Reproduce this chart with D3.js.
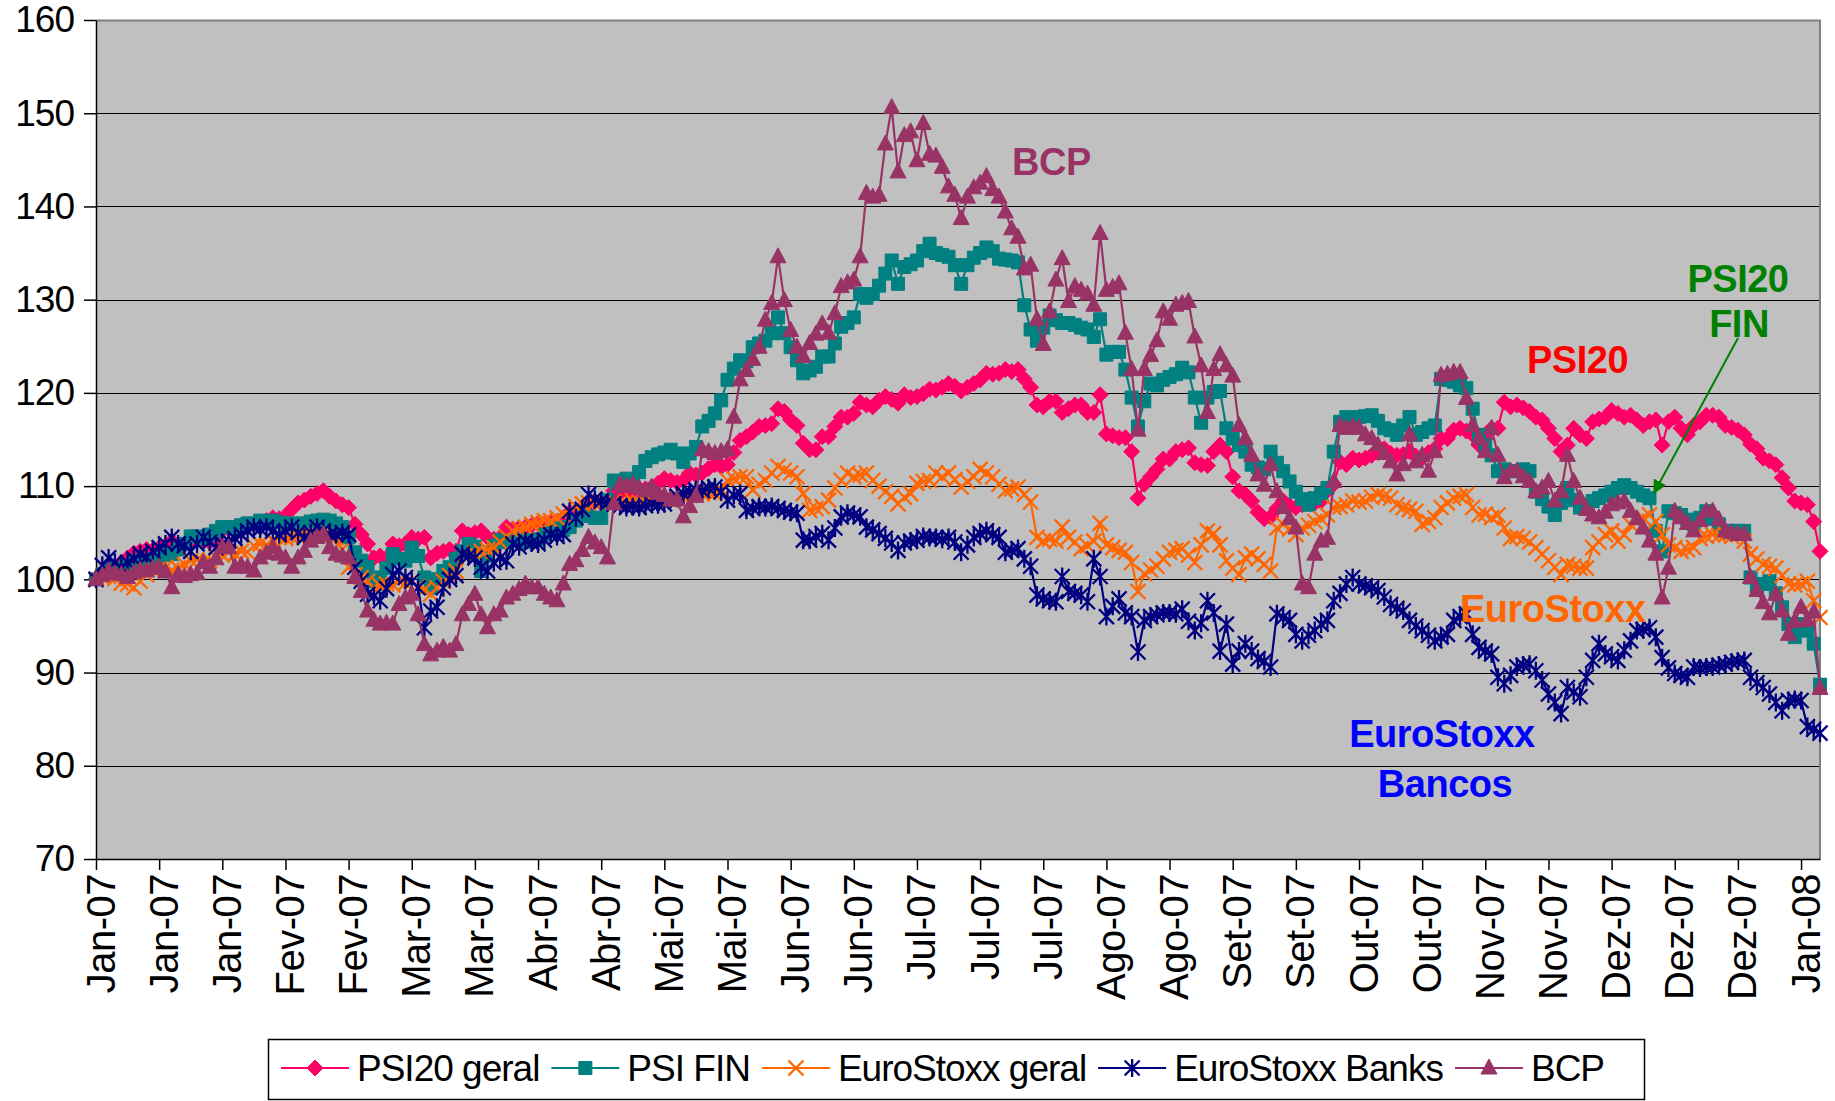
<!DOCTYPE html>
<html>
<head>
<meta charset="utf-8">
<script src="https://cdn.jsdelivr.net/npm/d3@7"></script>
<style>
  body { margin: 0; background: #fff; }
  text { font-family: "Liberation Sans", Arial, sans-serif; }
</style>
</head>
<body>
<svg></svg>
<script>
const tickLabels = ["Jan-07", "Jan-07", "Jan-07", "Fev-07", "Fev-07", "Mar-07", "Mar-07", "Abr-07", "Abr-07",
  "Mai-07", "Mai-07", "Jun-07", "Jun-07", "Jul-07", "Jul-07", "Jul-07", "Ago-07", "Ago-07", "Set-07", "Set-07",
  "Out-07", "Out-07", "Nov-07", "Nov-07", "Dez-07", "Dez-07", "Dez-07", "Jan-08"];
const yTicks = [70, 80, 90, 100, 110, 120, 130, 140, 150, 160];
const seriesNames = ["PSI20 geral", "PSI FIN", "EuroStoxx geral", "EuroStoxx Banks", "BCP"];

const psi20 = [
  100, 100.6, 101, 101.4, 101.8, 102.3, 102.8, 103, 103.2, 103.1,
  103.4, 103.6, 104.1, 103.6, 103.7, 104, 104.2, 104.2, 104, 104.5,
  105.3, 105.4, 105.6, 105.5, 105.8, 105.9, 106, 106.3, 106.6, 106.5,
  106.8, 107.5, 108.2, 108.5, 108.9, 109.2, 109.5, 108.9, 108.4, 108,
  107.7, 105.9, 104.8, 103.8, 102.3, 102.5, 102.3, 103.8, 103.6, 103.8,
  104.5, 104.3, 104.5, 102.3, 102.8, 103, 103.2, 103, 105.2, 104.8,
  105, 105.2, 104.5, 104.3, 104.5, 105.6, 105.4, 105.5, 105.6, 105.8,
  106, 105.8, 106.1, 106, 106.6, 107.2, 107, 107.2, 107.8, 108.4,
  108.2, 108.4, 109.5, 109.3, 109.6, 109.4, 109.5, 109.7, 109.9, 110.3,
  110.8, 110.6, 110.4, 110.6, 111.4, 111.2, 111.4, 111.9, 112.3, 112.1,
  112.3, 113.6, 114.9, 115.3, 115.8, 116.4, 116.5, 116.7, 118.3, 118,
  117.1, 116.5, 114.6, 113.9, 113.9, 115.3, 115.3, 116.4, 117.4, 117.4,
  117.8, 119, 118.7, 118.5, 119.2, 119.6, 119.3, 118.9, 119.8, 119.5,
  119.6, 119.9, 120.4, 120.3, 120.6, 121, 120.7, 120.2, 120.6, 121,
  121.4, 122.1, 122, 122.1, 122.5, 122.3, 122.5, 121.5, 120.6, 118.7,
  118.5, 119.1, 119.1, 117.9, 118.3, 118.7, 118.7, 117.9, 117.9, 119.8,
  115.6, 115.4, 115.2, 115.2, 113.7, 108.7, 110.2, 111, 111.8, 112.9,
  112.9, 113.7, 113.9, 114.1, 112.5, 112.3, 112.2, 113.7, 114.4, 113.7,
  111, 109.5, 109.1, 108.4, 107.2, 106.5, 106.7, 107.6, 108.4, 107.9,
  107.7, 108, 108.4, 108.2, 108.4, 109.5, 110.2, 112.6, 112.3, 113,
  112.8, 113, 113.3, 113.6, 114, 113.5, 113.3, 113.4, 113.7, 113.2,
  113, 113.6, 114, 115.1, 115.1, 116, 116.2, 115.9, 115.5, 114.4,
  115.1, 116.2, 116.2, 119, 118.5, 118.7, 118.4, 118, 117.4, 117.1,
  116.2, 115.1, 113.7, 114.4, 116.2, 115.5, 115.1, 116.9, 117.2, 117.4,
  118.1, 117.8, 117.4, 117.6, 117.1, 116.5, 116.9, 117.1, 114.4, 116.9,
  117.4, 116.2, 115.5, 116.5, 116.9, 117.6, 117.6, 117.4, 116.5, 116.3,
  116, 115.5, 114.5, 114, 113, 112.7, 112.3, 110.9, 109.8, 108.4,
  108.2, 108, 106.2, 103
];

const psiFin = [
  100, 100.5, 101, 101.2, 101, 101.5, 102, 101.8, 102, 102.2,
  102.5, 102.6, 102.7, 103.2, 103.8, 104.6, 104.6, 104.4, 104.8, 105.2,
  105.6, 105.6, 105.4, 105.8, 106, 105.9, 106.3, 106.2, 106.3, 106.1,
  105.9, 106, 105.8, 106, 106.2, 106.3, 106.4, 106.3, 106, 105.6,
  104.5, 102.9, 102, 101.3, 99.8, 100.2, 101.2, 102.7, 102.2, 102,
  103.4, 102.5, 100.2, 99.1, 100, 100.9, 101.3, 102.2, 103, 103.8,
  103.5, 100.9, 102.5, 103.6, 104.2, 104, 104.2, 104.4, 104, 104.2,
  104.3, 104.8, 105.2, 105.6, 105.3, 105.6, 106.3, 107, 106.8, 106.6,
  106.6, 108.5, 110.6, 110.4, 110.8, 110.6, 111.5, 112.7, 113.1, 113.4,
  113.6, 113.9, 113.5, 112.6, 113.5, 114.2, 116.4, 117, 117.8, 119.2,
  121.4, 122.6, 123.5, 123.4, 124.9, 125.3, 125.6, 126.4, 128.1, 126.4,
  124.9, 123.5, 122.1, 122.4, 122.8, 123.9, 123.9, 125.3, 127.1, 127.5,
  128.1, 130.6, 130.2, 130.6, 131.5, 132.8, 134.2, 131.7, 133.5, 133.8,
  134.2, 135.2, 136, 135, 134.8, 134.6, 133.7, 131.7, 133.7, 134.5,
  135, 135.6, 135.2, 134.4, 134.3, 134.2, 134, 129.4, 126.8, 125.6,
  127, 128.3, 127.8, 127.5, 127.5, 127.3, 127, 126.8, 126, 127.9,
  124.1, 124.4, 124.4, 122.5, 119.5, 116.4, 119.1, 121, 120.8, 121.4,
  121.7, 122, 122.7, 122.2, 119.5, 116.8, 119.5, 120.1, 120.2, 116.2,
  115.1, 114.4, 113.7, 112.3, 112, 111.8, 113.7, 112.5, 111.6, 110.5,
  109.4, 108.6, 108, 108.7, 109.2, 109.8, 113.7, 116.9, 117.4, 117.2,
  117.4, 117.5, 117.6, 117, 116.2, 116, 115.5, 116.5, 117.4, 115.5,
  115.8, 116.2, 116.5, 121.5, 121.4, 121.2, 120.8, 120.5, 118.3, 115.5,
  114.4, 113.3, 111.6, 111.8, 111.6, 111.6, 111.8, 111.6, 109.4, 108.6,
  107.8, 106.9, 108.2, 109.8, 108.5, 107.7, 108, 108.4, 108.7, 109,
  109.4, 109.8, 110.1, 109.8, 109.4, 109, 108.7, 105.2, 103, 107.3,
  107.1, 106.9, 106.4, 105.9, 106.6, 107.3, 106.5, 105.9, 105.2, 105.2,
  105.2, 105.2, 100.2, 99.1, 99.5, 99.8, 98.5, 97, 95.2, 93.8,
  95.2, 94.5, 93.1, 88.7
];

const euroStoxx = [
  100, 100.2, 100.3, 100.1, 99.6, 99.5, 99.1, 99.8, 100.5, 101,
  101.1, 101.3, 101, 101.2, 101.6, 102, 102.1, 101.8, 102, 102.4,
  102.6, 102.9, 102.7, 103, 102.9, 103.6, 103.8, 103.7, 104.2, 104.5,
  104.4, 104.5, 104.6, 104.8, 104.7, 104.8, 104.8, 104.6, 104.5, 103.2,
  101.3, 100.5, 100.2, 99.8, 99.1, 99.3, 99.5, 99.4, 99.8, 99.6,
  99.8, 99.2, 98.9, 98.4, 99.1, 99.8, 100.4, 100.9, 102.7, 102.5,
  102.8, 103, 103.2, 103.4, 104, 104.6, 105.2, 105.4, 105.6, 105.9,
  106.1, 106.3, 106.3, 106.6, 107, 107.3, 107.8, 108.1, 108.2, 108.3,
  108.4, 108.2, 108.3, 108.1, 108.2, 108.4, 108.2, 108.4, 108.5, 108.6,
  108.7, 108.5, 108.8, 108.9, 109, 109.1, 109.2, 109.3, 109.2, 109.6,
  110.6, 110.8, 111, 111, 109.6, 110.2, 110.6, 111.4, 112.1, 111.7,
  111.4, 111, 109.2, 107.4, 107.6, 107.8, 108.5, 109.8, 110.6, 111.4,
  111, 111.2, 111.4, 110.6, 110, 109.4, 108.9, 108.1, 108.8, 109.2,
  110.3, 110.5, 110.6, 111.4, 111, 111.4, 110.7, 109.9, 110.5, 111,
  111.8, 111.4, 111, 110.2, 109.5, 109.7, 109.9, 109.1, 108.3, 104.5,
  104.1, 104.3, 104.1, 105.6, 104.5, 104, 103.3, 103.6, 104.1, 106,
  103.7, 103.4, 103.1, 102.9, 101.8, 98.7, 100.6, 101, 101.4, 102.2,
  102.9, 103.1, 103.3, 102.6, 101.8, 103.7, 105.2, 104.9, 103.7, 102,
  101.2, 100.5, 102.3, 102.7, 102.2, 101.6, 100.9, 105.5, 105.9, 105.4,
  104.8, 105.5, 105.8, 106.2, 106.5, 106.9, 107.7, 107.8, 108, 108.4,
  108.3, 108.4, 108.8, 109.1, 108.9, 108.7, 108, 107.7, 107.5, 107.3,
  105.9, 106.2, 106.6, 107.7, 108.2, 108.7, 108.9, 109.1, 107.7, 106.9,
  107, 106.6, 106.9, 105.5, 104.4, 104.6, 104.4, 104, 103.4, 102.7,
  102, 101.3, 100.5, 101.6, 101.4, 101.2, 101.2, 103.4, 104, 104.8,
  105.2, 104.1, 104.8, 105.9, 106.2, 106.6, 106.9, 106.2, 104.8, 103.7,
  103.4, 103, 103.2, 103.4, 104.4, 104.6, 104.8, 104.7, 104.8, 104.6,
  104.8, 104.1, 102.7, 102.2, 101.6, 101.4, 101.2, 100.4, 99.5, 99.4,
  99.5, 99.8, 97.7, 95.9
];

const euroStoxxBanks = [
  100, 101.5, 102.3, 101.8, 101.3, 101.8, 102.2, 102.7, 102.4, 103,
  103.4, 103.8, 104.5, 103.8, 103.6, 103, 103.8, 104.5, 104, 103.4,
  103.8, 104.1, 104.4, 104.8, 105.2, 105.6, 105.4, 105.6, 105.2, 104.8,
  105.2, 105.6, 105, 104.5, 105, 105.6, 105.2, 104.8, 104.8, 105,
  104.8, 101.3, 99.8, 98.4, 98.2, 97.7, 99, 100.5, 100.9, 100.2,
  99.8, 99.1, 94.8, 96.6, 97, 99.1, 100, 100.4, 102.7, 102.5,
  102.3, 101.3, 100.9, 101.8, 102.3, 102, 103.8, 103.5, 104.1, 103.9,
  103.8, 104.2, 104.8, 104.6, 104.8, 107.3, 106.6, 107.5, 109.1, 108.6,
  108.4, 108.2, 108.1, 107.9, 107.7, 107.8, 107.7, 107.9, 108.1, 108,
  108.1, 108.6, 108.9, 109.2, 109.4, 109.6, 109.5, 109.8, 109.9, 109.4,
  108.5, 109, 109.2, 107.4, 107.6, 107.8, 107.7, 107.8, 107.6, 107.4,
  107.2, 107.1, 104.2, 104.2, 104.6, 104.9, 104.2, 105.5, 106.7, 107.1,
  106.9, 106.7, 105.6, 105.3, 104.9, 104.4, 103.9, 103.1, 103.9, 104.1,
  104.2, 104.6, 104.5, 104.5, 104.3, 104.5, 104, 102.9, 103.7, 104.5,
  104.9, 105.2, 104.8, 104.5, 102.9, 103.1, 103.3, 102.2, 101.4, 98.3,
  97.9, 97.7, 97.6, 100.3, 98.7, 98.5, 98.3, 97.6, 102.2, 100.3,
  96, 97.1, 97.9, 96.4, 96, 92.2, 95.6, 96, 96.2, 96.4,
  96.4, 96.3, 96.8, 95.5, 94.5, 95.3, 97.7, 96.4, 92.3, 95.2,
  90.9, 92.3, 93.1, 92.3, 91.5, 91.2, 90.6, 96.3, 95.9, 95.6,
  94.1, 93.4, 94, 94.5, 95.2, 95.6, 97.7, 98.5, 99.5, 100.2,
  99.5, 99.3, 99.1, 98.8, 98.1, 97.3, 96.9, 96.6, 95.6, 95,
  94.5, 94, 93.4, 93.8, 94.1, 95.6, 96, 96.3, 94.1, 92.7,
  92.3, 92, 89.5, 88.8, 89.7, 90.6, 90.8, 90.9, 90.2, 89.2,
  87.7, 86.8, 85.6, 88.4, 87.9, 87.4, 89.5, 91.3, 93.1, 92,
  91.7, 91.3, 92.4, 93.4, 94.5, 94.6, 94.8, 93.8, 91.6, 90.5,
  89.9, 89.7, 89.5, 90.6, 90.5, 90.6, 90.6, 90.8, 90.9, 91.1,
  91.2, 91.3, 89.5, 88.9, 88.4, 87.7, 86.8, 85.9, 87, 87.1,
  87, 84.2, 83.9, 83.5
];

const bcp = [
  100, 100.4, 100.9, 100.6, 100.5, 100.2, 100.7, 101, 100.9, 101.2,
  101.3, 100.8, 99.1, 100.5, 100.3, 100.5, 100.6, 101.8, 101.3, 102.2,
  103.4, 103.4, 101.3, 101.5, 101.3, 100.9, 102.3, 102.8, 103.4, 102.7,
  102.3, 101.3, 102.3, 103, 104.1, 104.5, 104.8, 103.4, 102.7, 102.5,
  102.3, 100.2, 98.7, 96.6, 95.6, 95.2, 95.3, 95.2, 97.3, 98,
  98.4, 96.2, 93, 91.9, 92.3, 92.7, 92.3, 93, 96.2, 97.3,
  98.4, 96.2, 94.8, 96.2, 96.6, 98, 98.4, 98.9, 99.5, 99.1,
  99.1, 98.4, 98, 97.7, 99.5, 101.6, 102, 103.1, 104.5, 103.9,
  103.4, 102.3, 108.1, 110.2, 110, 110.2, 109.8, 109.5, 109.9, 109.2,
  109, 108.5, 108.5, 106.7, 107.8, 108.9, 113.9, 113.7, 113.5, 113.7,
  113.9, 117.4, 121.4, 122.4, 123.6, 124.9, 127.8, 129.6, 134.6, 129.9,
  126.7, 124.9, 123.9, 125.3, 126.3, 127.4, 126.4, 128.5, 131.4, 131.8,
  132.1, 134.6, 141.4, 141, 141.2, 146.7, 150.6, 143.7, 147.6, 148,
  144.9, 148.9, 145.6, 145.4, 144.2, 142.1, 141.2, 138.7, 141, 142,
  142.5, 143.2, 141.8, 141, 139.4, 137.6, 136.7, 133.3, 133.7, 127.9,
  125.2, 128.7, 132.1, 134.4, 129.8, 131.4, 131, 130.6, 129.4, 137.1,
  131, 131.3, 131.7, 126.4, 122.5, 116, 122.5, 124, 125.6, 128.7,
  127.9, 129.4, 129.6, 129.8, 126, 122.9, 117.9, 122.5, 124.1, 122.9,
  121.8, 116.5, 115.1, 113.3, 111.2, 110.1, 112.3, 109.4, 107.7, 106.5,
  105.5, 99.5, 99.1, 102.7, 104.1, 104.4, 110.5, 116.5, 116.2, 116.4,
  116.2, 115.5, 115.1, 114.4, 113.5, 112.6, 111.2, 112.3, 115.5, 112.6,
  113.3, 111.6, 113.7, 121.9, 122, 122.2, 122.2, 119.4, 116.5, 115.1,
  113.7, 116.2, 113.3, 110.9, 111.6, 111.6, 111, 110.5, 109.4, 109.8,
  110.5, 108.4, 109.4, 113.3, 110.5, 108.7, 107.5, 106.9, 106.6, 107.2,
  108, 108.2, 108.4, 107.3, 106.5, 105.5, 104.1, 102.7, 98, 101.2,
  107.3, 106.6, 106, 105.2, 106.3, 107.3, 107.3, 106.4, 105.2, 105,
  104.8, 104.8, 100.2, 98.8, 97.5, 96.3, 98.4, 96.6, 94.1, 95.5,
  97, 95.6, 96.5, 88.3
];

const width = 1835;
const height = 1101;

const svg = d3.select("svg")
  .attr("width", width)
  .attr("height", height);

const plotLeft = 96, plotRight = 1820, plotTop = 20, plotBottom = 859;

const x = d3.scaleLinear()
  .domain([0, psi20.length - 1])
  .range([plotLeft, plotRight]);

const y = d3.scaleLinear()
  .domain([70, 160])
  .range([plotBottom, plotTop]);

const markers = {
  diamond: "M0,-8L8,0L0,8L-8,0Z",
  square: "M-6.5,-6.5H6.5V6.5H-6.5Z",
  cross: "M-7.5,-7.5L7.5,7.5M-7.5,7.5L7.5,-7.5",
  star: "M-7.5,-7.5L7.5,7.5M-7.5,7.5L7.5,-7.5M0,-9V9",
  triangle: "M0,-9L8,6L-8,6Z"
};

const series = [
  { name: seriesNames[0], values: psi20, color: "#ff0066", marker: "diamond", filled: true },
  { name: seriesNames[1], values: psiFin, color: "#008080", marker: "square", filled: true },
  { name: seriesNames[2], values: euroStoxx, color: "#ff6600", marker: "cross", filled: false },
  { name: seriesNames[3], values: euroStoxxBanks, color: "#000080", marker: "star", filled: false },
  { name: seriesNames[4], values: bcp, color: "#993366", marker: "triangle", filled: true }
];

// plot area
svg.append("rect")
  .attr("x", plotLeft)
  .attr("y", plotTop)
  .attr("width", plotRight - plotLeft)
  .attr("height", plotBottom - plotTop)
  .attr("fill", "#c0c0c0");

svg.append("g")
  .selectAll("line")
  .data(yTicks.filter(function (d) { return d > 70 && d < 160; }))
  .enter()
  .append("line")
  .attr("x1", plotLeft)
  .attr("x2", plotRight)
  .attr("y1", function (d) { return Math.round(y(d)) + 0.5; })
  .attr("y2", function (d) { return Math.round(y(d)) + 0.5; })
  .attr("stroke", "#000")
  .attr("stroke-width", 1.2);

svg.append("path")
  .attr("d", `M${plotLeft},${plotTop + 0.5}H${plotRight}V${plotBottom}`)
  .attr("fill", "none")
  .attr("stroke", "#808080")
  .attr("stroke-width", 2);

// axes
const yAxis = svg.append("g")
  .attr("transform", `translate(${plotLeft},0)`)
  .call(d3.axisLeft(y).tickValues(yTicks).tickSize(12).tickPadding(10).tickSizeOuter(0));

yAxis.selectAll("text")
  .attr("font-size", 37)
  .attr("letter-spacing", -1)
  .attr("fill", "#000")
  .style("font-family", "'Liberation Sans', Arial, sans-serif");

const xAxis = svg.append("g")
  .attr("transform", `translate(0,${plotBottom})`)
  .call(d3.axisBottom(x)
    .tickValues(tickLabels.map(function (d, i) { return i * 10; }))
    .tickFormat(function (d, i) { return tickLabels[i]; })
    .tickSize(11)
    .tickSizeOuter(0));

xAxis.selectAll("text")
  .attr("transform", "rotate(-90)")
  .attr("text-anchor", "end")
  .attr("x", -15)
  .attr("y", 0)
  .attr("dy", "0.45em")
  .attr("font-size", 40)
  .attr("letter-spacing", -0.5)
  .attr("fill", "#000")
  .style("font-family", "'Liberation Sans', Arial, sans-serif");

svg.selectAll(".domain, .tick line")
  .attr("stroke", "#000")
  .attr("stroke-width", 1.5);

// series
const line = d3.line()
  .x(function (d, i) { return x(i); })
  .y(function (d) { return y(d); });

series.forEach(function (s) {
  const g = svg.append("g");
  g.append("path")
    .attr("d", line(s.values))
    .attr("fill", "none")
    .attr("stroke", s.color)
    .attr("stroke-width", 2.2);
  g.selectAll("path.m")
    .data(s.values)
    .enter()
    .append("path")
    .attr("class", "m")
    .attr("d", markers[s.marker])
    .attr("transform", function (d, i) { return `translate(${x(i)},${y(d)})`; })
    .attr("fill", s.filled ? s.color : "none")
    .attr("stroke", s.color)
    .attr("stroke-width", s.filled ? 1 : 2.3);
});

// annotations
const notes = [
  { text: "BCP", x: 1012, y: 175, color: "#993366", anchor: "start" },
  { text: "PSI20", x: 1527, y: 373, color: "#ff0000", anchor: "start" },
  { text: "PSI20", x: 1738, y: 292, color: "#008000", anchor: "middle" },
  { text: "FIN", x: 1739, y: 337, color: "#008000", anchor: "middle" },
  { text: "EuroStoxx", x: 1460, y: 622, color: "#ff6600", anchor: "start" },
  { text: "EuroStoxx", x: 1442, y: 747, color: "#0000ff", anchor: "middle" },
  { text: "Bancos", x: 1445, y: 797, color: "#0000ff", anchor: "middle" }
];

svg.selectAll(".note")
  .data(notes)
  .enter()
  .append("text")
  .attr("class", "note")
  .attr("x", function (d) { return d.x; })
  .attr("y", function (d) { return d.y; })
  .attr("text-anchor", function (d) { return d.anchor; })
  .attr("fill", function (d) { return d.color; })
  .attr("font-size", 38)
  .attr("font-weight", "bold")
  .attr("letter-spacing", -0.5)
  .text(function (d) { return d.text; });

svg.append("defs")
  .append("marker")
  .attr("id", "arrow")
  .attr("viewBox", "0 0 10 10")
  .attr("refX", 9)
  .attr("refY", 5)
  .attr("markerWidth", 7)
  .attr("markerHeight", 7)
  .attr("orient", "auto")
  .append("path")
  .attr("d", "M0,0L10,5L0,10Z")
  .attr("fill", "#008000");

svg.append("line")
  .attr("x1", 1738)
  .attr("y1", 338)
  .attr("x2", 1654)
  .attr("y2", 493)
  .attr("stroke", "#008000")
  .attr("stroke-width", 2)
  .attr("marker-end", "url(#arrow)");

// legend
const legend = svg.append("g");

legend.append("rect")
  .attr("x", 268.5)
  .attr("y", 1039.5)
  .attr("width", 1376)
  .attr("height", 60)
  .attr("fill", "#fff")
  .attr("stroke", "#000")
  .attr("stroke-width", 1.5);

let lx = 281;
series.forEach(function (s) {
  const item = legend.append("g").attr("transform", `translate(${lx},1068)`);
  item.append("line")
    .attr("x1", 0)
    .attr("x2", 68)
    .attr("stroke", s.color)
    .attr("stroke-width", 2.2);
  item.append("path")
    .attr("d", markers[s.marker])
    .attr("transform", "translate(34,0)")
    .attr("fill", s.filled ? s.color : "none")
    .attr("stroke", s.color)
    .attr("stroke-width", s.filled ? 1 : 2.3);
  const label = item.append("text")
    .attr("x", 76)
    .attr("dy", "0.36em")
    .attr("font-size", 37)
    .attr("letter-spacing", -1)
    .attr("fill", "#000")
    .text(s.name);
  lx += 76 + label.node().getComputedTextLength() + 12;
});
</script>
</body>
</html>
